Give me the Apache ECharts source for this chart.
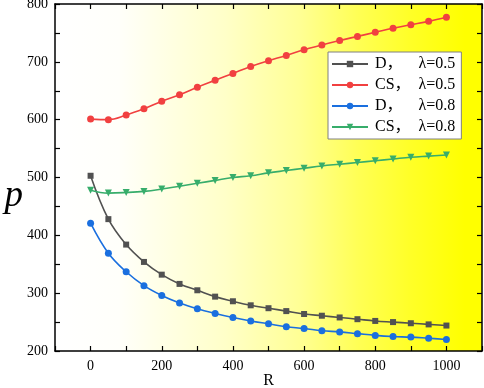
<!DOCTYPE html>
<html>
<head>
<meta charset="utf-8">
<script src="https://cdn.jsdelivr.net/npm/echarts@6/dist/echarts.min.js"></script>
<style>
  html, body { margin: 0; padding: 0; background: #fff; }
  #chart { width: 484px; height: 388px; }
</style>
</head>
<body>
<div id="chart"></div>
<script>
// R values (x axis)
const rValues = [0, 50, 100, 150, 200, 250, 300, 350, 400, 450, 500,
  550, 600, 650, 700, 750, 800, 850, 900, 950, 1000];

const seriesNames = ["D，    λ=0.5", "CS，  λ=0.5", "D，    λ=0.8", "CS，  λ=0.8"];

const dLam05 = [503, 428, 384, 354, 332, 316, 305, 294, 286, 279, 274,
  269, 264, 261, 258, 255, 252, 250, 248, 246, 244];
const csLam05 = [601, 600, 608, 619, 632, 643, 656, 668, 680, 692, 702,
  711, 721, 729, 737, 744, 751, 758, 764, 770, 777];
const dLam08 = [421, 369, 337, 313, 296, 283, 273, 265, 258, 252, 247,
  242, 239, 235, 233, 230, 227, 225, 224, 222, 220];
const csLam08 = [478, 473, 474, 476, 480, 485, 490, 495, 500, 503, 508,
  512, 516, 520, 523, 526, 529, 532, 535, 537, 539];

const colors = ["#515151", "#F14040", "#1A6FDF", "#37AD6B"];
const symbols = ["rect", "circle", "circle", "triangle"];

const serifFont = "'Liberation Serif', 'DejaVu Serif', serif";

const chart = echarts.init(document.getElementById("chart"));

function pairs(vals) {
  return vals.map((v, i) => [rValues[i], v]);
}

const allData = [dLam05, csLam05, dLam08, csLam08];

const axisLineStyle = { show: true, onZero: false, lineStyle: { color: "#000", width: 1.5 } };
const tickStyle = { show: true, inside: true, length: 5, lineStyle: { color: "#000", width: 1.2 } };

chart.setOption({
  animation: false,
  grid: {
    left: 55,
    right: 2,
    top: 4,
    bottom: 37,
    outerBoundsMode: "none",
    containLabel: false,
    show: true,
    borderWidth: 0,
    backgroundColor: new echarts.graphic.LinearGradient(0, 0, 1, 0, [
      { offset: 0, color: "#ffffff" },
      { offset: 0.15, color: "#fffffa" },
      { offset: 0.4, color: "#ffffc8" },
      { offset: 0.57, color: "#ffff96" },
      { offset: 0.71, color: "#ffff55" },
      { offset: 0.83, color: "#ffff28" },
      { offset: 0.96, color: "#ffff00" },
      { offset: 1, color: "#ffff00" },
    ]),
  },
  legend: {
    orient: "vertical",
    left: 328,
    top: 52,
    padding: [4, 6, 4, 3],
    itemGap: 5,
    itemWidth: 36,
    itemHeight: 8,
    backgroundColor: "#ffffff",
    borderColor: "#808080",
    borderWidth: 1,
    textStyle: {
      fontFamily: "'Liberation Serif', 'Noto Sans CJK SC', serif",
      fontSize: 16,
      color: "#000",
      padding: [0, 0, 0, 2],
    },
    data: seriesNames,
  },
  xAxis: [
    {
      type: "value",
      min: -100,
      max: 1100,
      interval: 100,
      name: "R",
      nameLocation: "middle",
      nameGap: 22,
      nameMoveOverlap: false,
      nameTextStyle: { fontFamily: serifFont, fontSize: 16, color: "#000" },
      axisLine: axisLineStyle,
      axisTick: tickStyle,
      axisLabel: {
        fontFamily: serifFont,
        fontSize: 14,
        color: "#000",
        margin: 8,
        formatter: (v) => (v < 0 || v > 1000 || v % 200 !== 0 ? "" : String(v)),
      },
      splitLine: { show: false },
    },
    {
      type: "value",
      position: "top",
      min: -100,
      max: 1100,
      interval: 100,
      axisLine: axisLineStyle,
      axisTick: tickStyle,
      axisLabel: { show: false },
      splitLine: { show: false },
    },
  ],
  yAxis: [
    {
      type: "value",
      min: 200,
      max: 800,
      interval: 100,
      name: "p",
      nameLocation: "middle",
      nameGap: 32,
      nameMoveOverlap: false,
      nameRotate: 0,
      nameTextStyle: {
        fontFamily: serifFont,
        fontStyle: "italic",
        fontSize: 37,
        color: "#000",
        verticalAlign: "top",
      },
      axisLine: axisLineStyle,
      axisTick: tickStyle,
      minorTick: { show: true, splitNumber: 2, length: 5, lineStyle: { color: "#000", width: 1.2 } },
      axisLabel: { fontFamily: serifFont, fontSize: 14, color: "#000", margin: 7 },
      splitLine: { show: false },
    },
    {
      type: "value",
      position: "right",
      min: 200,
      max: 800,
      interval: 100,
      axisLine: axisLineStyle,
      axisTick: tickStyle,
      minorTick: { show: true, splitNumber: 2, length: 5, lineStyle: { color: "#000", width: 1.2 } },
      axisLabel: { show: false },
      splitLine: { show: false },
    },
  ],
  series: seriesNames.map((name, i) => ({
    name,
    type: "line",
    data: pairs(allData[i]),
    smooth: 0.4,
    symbol: symbols[i],
    symbolSize: i === 0 ? 6 : 7,
    symbolRotate: i === 3 ? 180 : 0,
    showAllSymbol: true,
    color: colors[i],
    lineStyle: { color: colors[i], width: 1.6 },
    itemStyle: { color: colors[i] },
  })),
});
</script>
</body>
</html>
